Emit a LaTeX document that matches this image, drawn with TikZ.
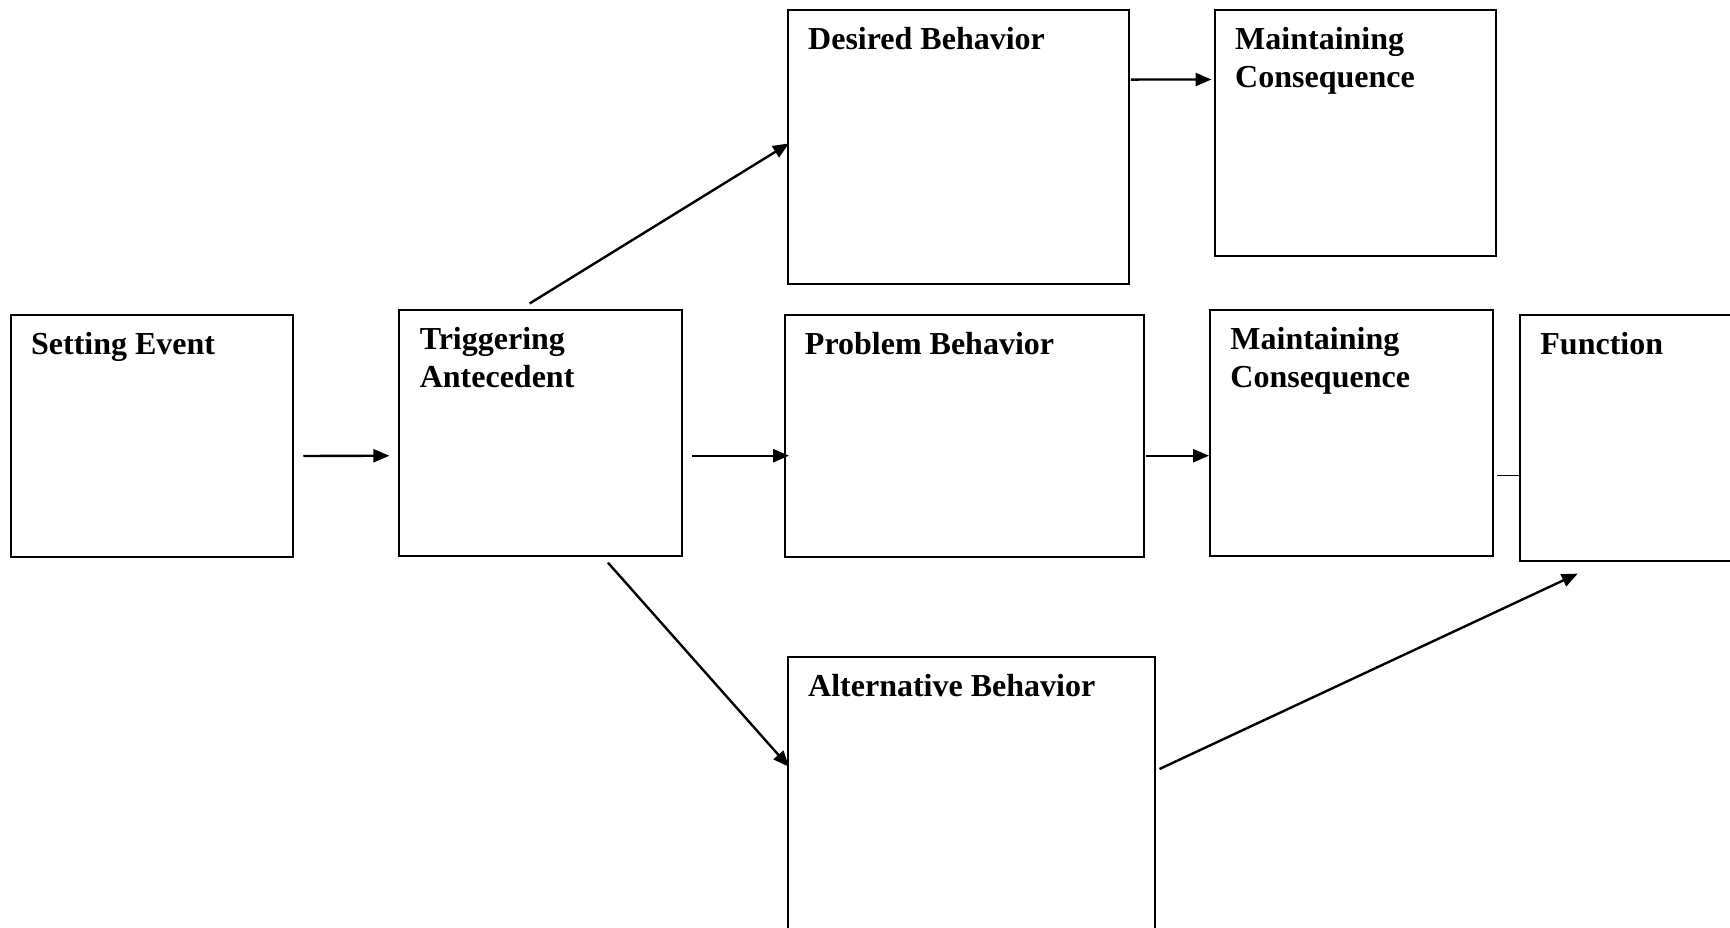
\documentclass[tikz,border=0pt]{standalone}
\usepackage{fontspec}
\setmainfont{Liberation Serif}
\usetikzlibrary{arrows.meta}

\begin{document}
\begin{tikzpicture}[x=0.5pt, y=-0.5pt,
  box/.style={draw, line width=1pt, rectangle, inner sep=0pt},
  head/.style={anchor=north west, inner sep=0pt, align=left, xshift=10.5pt, yshift=-9pt,
    font=\bfseries\fontsize{16}{18.8}\selectfont},
  arr/.style={-{Triangle[length=8pt,width=6.5pt]}, line width=1.2pt}]
  \clip (0,0) rectangle (1730,927);
  % Middle row
  \node[box, minimum width=141.25pt, minimum height=121.25pt,
        label={[head]north west:Setting Event}] (setting) at (152,436) {};
  \node[box, minimum width=141.2pt, minimum height=123pt,
        label={[head]north west:{Triggering\\Antecedent}}] (trigger) at (540.6,433) {};
  \node[box, minimum width=179.75pt, minimum height=121.25pt,
        label={[head]north west:Problem Behavior}] (problem) at (964.3,436) {};
  \node[box, minimum width=141.5pt, minimum height=123pt,
        label={[head]north west:{Maintaining\\Consequence}}] (consmid) at (1351.5,433) {};
  \node[box, minimum width=141.5pt, minimum height=123pt,
        label={[head]north west:Function}] (function) at (1661.5,437.5) {};
  % Top row
  \node[box, minimum width=170.5pt, minimum height=136.75pt,
        label={[head]north west:Desired Behavior}] (desired) at (958.3,146.8) {};
  \node[box, minimum width=140.6pt, minimum height=123pt,
        label={[head]north west:{Maintaining\\Consequence}}] (constop) at (1355.4,133) {};
  % Bottom row
  \node[box, minimum width=183.7pt, minimum height=145pt,
        label={[head]north west:Alternative Behavior}] (altern) at (971.5,801.5) {};
  % Connectors
  \draw[arr] ([shift={(9,20)}]setting.east) -- ([shift={(-9,22.7)}]trigger.west);
  \draw[arr] ([shift={(9,22.7)}]trigger.east) -- ([shift={(5.5,19.7)}]problem.west);
  \draw[arr] ([shift={(-11,-5.5)}]trigger.north) -- ([shift={(2.2,-3.4)}]desired.west);
  \draw[arr] ([shift={(67.3,5.6)}]trigger.south) -- ([shift={(2.2,-34.7)}]altern.west);
  \draw[arr] ([shift={(1,70.5)}]desired.north east) -- ([shift={(-2.3,70.5)}]constop.north west);
  \draw[arr] ([shift={(1.2,19.7)}]problem.east) -- ([shift={(0,22.7)}]consmid.west);
  \draw[line width=0.6pt] ([shift={(3,42.5)}]consmid.east) -- ([shift={(0,38)}]function.west);
  \draw[arr] ([shift={(3.3,-32.5)}]altern.east) -- ([shift={(58.8,12.1)}]function.south west);
\end{tikzpicture}
\end{document}
